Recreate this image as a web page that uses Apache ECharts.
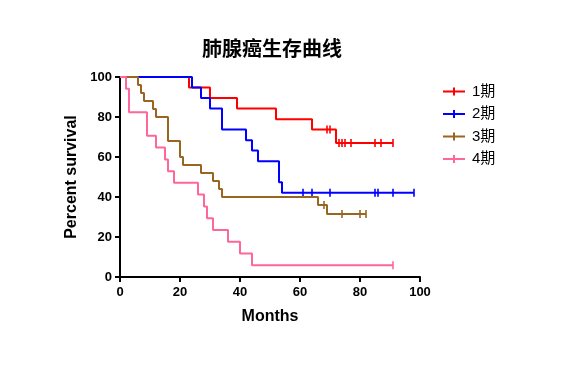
<!DOCTYPE html>
<html>
<head>
<meta charset="utf-8">
<script src="https://cdn.jsdelivr.net/npm/echarts@6/dist/echarts.min.js"></script>
<style>html,body{margin:0;padding:0;background:#fff}#c{width:563px;height:367px}</style>
</head>
<body>
<div id="c"></div>
<script>
// Group names
const groups = ['1期', '2期', '3期', '4期'];
const colors = ['#FF0000', '#0000FF', '#996622', '#FF6699'];
// Kaplan-Meier step points (time, survival %)
const t1 = [0, 23, 30, 39, 52, 64, 72, 91];
const s1 = [100, 94.7, 89.5, 84.2, 78.9, 73.7, 67, 67];
const t2 = [0, 24, 27, 30, 34, 42, 44, 46, 53, 54, 98];
const s2 = [100, 94.7, 89.5, 84.2, 73.7, 68.4, 63.2, 57.9, 47.4, 42.1, 42.1];
const t3 = [0, 6, 7, 8, 11, 12, 16, 20, 21, 27, 31, 33, 34, 66, 69, 82];
const s3 = [100, 96, 92, 88, 84, 80, 68, 60, 56, 52, 48, 44, 40, 36, 31.5, 31.5];
const t4 = [0, 2, 3, 9, 12, 15, 16, 18, 26, 28, 29, 31, 36, 40, 44, 91];
const s4 = [100, 94.1, 82.4, 70.6, 64.7, 58.8, 52.9, 47.1, 41.2, 35.3, 29.4, 23.5, 17.6, 11.8, 5.9, 5.9];
// Censored observations
const c1t = [69, 70, 73, 74, 75, 77, 85, 87, 91];
const c1s = [73.7, 73.7, 67, 67, 67, 67, 67, 67, 67];
const c2t = [61, 64, 70, 85, 86, 91, 98];
const c2s = [42.1, 42.1, 42.1, 42.1, 42.1, 42.1, 42.1];
const c3t = [68, 74, 80, 82];
const c3s = [36, 31.5, 31.5, 31.5];
const c4t = [91];
const c4s = [5.9];
// Axis ticks
const xTicks = [0, 20, 40, 60, 80, 100];
const yTicks = [0, 20, 40, 60, 80, 100];

const T = [t1, t2, t3, t4], S = [s1, s2, s3, s4];
const CT = [c1t, c2t, c3t, c4t], CS = [c1s, c2s, c3s, c4s];
const zip = (a, b) => a.map((v, i) => [v, b[i]]);

const series = [];
groups.forEach((g, i) => {
  series.push({
    name: g, type: 'line', step: 'end', showSymbol: false, symbol: 'none',
    data: zip(T[i], S[i]), color: colors[i],
    lineStyle: { width: 2, color: colors[i] }, z: 2 + i, silent: true
  });
});
groups.forEach((g, i) => {
  series.push({
    name: g + '_c', type: 'scatter', symbol: 'rect', symbolSize: [2, 8],
    data: zip(CT[i], CS[i]), itemStyle: { color: colors[i] }, z: 2 + i, silent: true
  });
});

const axisFont = { fontFamily: 'Liberation Sans, Arial, sans-serif', fontWeight: 'bold', fontSize: 13, color: '#000' };
const chart = echarts.init(document.getElementById('c'), null, { renderer: 'canvas' });
chart.setOption({
  animation: false,
  backgroundColor: '#fff',
  title: {
    text: '肺腺癌生存曲线', left: 267, top: 33, textAlign: 'center',
    textStyle: { fontFamily: 'Noto Sans CJK SC', fontWeight: 'bold', fontSize: 20, color: '#000' }
  },
  legend: {
    orient: 'vertical', left: 438, top: 79, itemGap: 7.5,
    itemWidth: 22, itemHeight: 8,
    icon: 'path://M0,3h22v2h-22z M10,0h2v8h-2z',
    data: groups.map((g, i) => ({ name: g, itemStyle: { color: colors[i] } })),
    textStyle: { fontFamily: 'Liberation Sans, Arial, Noto Sans CJK SC, sans-serif', fontSize: 15, color: '#000', padding: [0, 0, 0, 2] },
    selectedMode: false
  },
  grid: { left: 120, right: 143, top: 77, bottom: 90, containLabel: false },
  xAxis: {
    type: 'value', min: xTicks[0], max: xTicks[xTicks.length - 1], interval: 20,
    name: 'Months', nameLocation: 'middle', nameGap: 32,
    nameTextStyle: { fontFamily: 'Liberation Sans, Arial, sans-serif', fontWeight: 'bold', fontSize: 16, color: '#000' },
    axisLine: { show: true, onZero: false, lineStyle: { color: '#000', width: 2 } },
    axisTick: { show: true, length: 5, lineStyle: { color: '#000', width: 2 } },
    axisLabel: Object.assign({ margin: 9 }, axisFont),
    splitLine: { show: false }
  },
  yAxis: {
    type: 'value', min: yTicks[0], max: yTicks[yTicks.length - 1], interval: 20,
    name: 'Percent survival', nameLocation: 'middle', nameGap: 38, nameRotate: 90,
    nameTextStyle: { fontFamily: 'Liberation Sans, Arial, sans-serif', fontWeight: 'bold', fontSize: 16, color: '#000' },
    axisLine: { show: true, onZero: false, lineStyle: { color: '#000', width: 2 } },
    axisTick: { show: true, length: 5, lineStyle: { color: '#000', width: 2 } },
    axisLabel: Object.assign({ margin: 8 }, axisFont),
    splitLine: { show: false }
  },
  series: series
});
</script>
</body>
</html>
